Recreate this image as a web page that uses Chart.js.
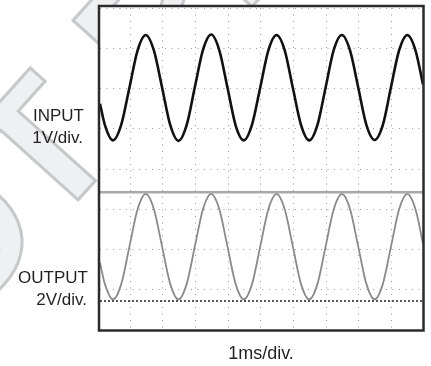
<!DOCTYPE html>
<html lang="en">
<head>
  <meta charset="UTF-8" />
  <title>Input / Output scope capture</title>
  <style>
    body {
      margin: 0;
      background: #fff;
    }
    #scope {
      display: block;
    }
  </style>
</head>
<body>
  <canvas id="scope" width="431" height="366"></canvas>

  <script src="https://cdn.jsdelivr.net/npm/chart.js"></script>

  <script>
    // time axis in ms (1ms/div), values in screen divisions (center = 0)
    const timesMs = [0.08, 0.23, 0.48, 0.73, 0.98, 1.23, 1.48, 1.73, 1.98, 2.23,
      2.48, 2.73, 2.98, 3.23, 3.48, 3.73, 3.98, 4.23, 4.48, 4.73,
      4.98, 5.23, 5.48, 5.73, 5.98, 6.23, 6.48, 6.73, 6.98, 7.23,
      7.48, 7.73, 7.98, 8.23, 8.48, 8.73, 8.98, 9.23, 9.48, 9.73, 9.96];

    const inputDiv = [1.62, 1.09, 0.71, 1.10, 2.02, 2.95, 3.33, 2.94, 2.02, 1.09,
      0.70, 1.09, 2.03, 2.96, 3.34, 2.95, 2.02, 1.08, 0.71, 1.10,
      2.02, 2.95, 3.33, 2.95, 2.01, 1.09, 0.71, 1.09, 2.02, 2.96,
      3.33, 2.94, 2.02, 1.09, 0.72, 1.09, 2.03, 2.95, 3.33, 2.95, 2.10];

    const outputDiv = [-2.33, -2.86, -3.24, -2.86, -1.93, -1.00, -0.62, -1.00, -1.93, -2.86,
      -3.24, -2.86, -1.93, -1.00, -0.62, -1.00, -1.93, -2.86, -3.24, -2.86,
      -1.93, -1.00, -0.62, -1.00, -1.93, -2.86, -3.24, -2.86, -1.93, -1.00,
      -0.62, -1.00, -1.93, -2.86, -3.24, -2.86, -1.93, -1.00, -0.62, -1.00, -1.85];

    // marker levels on the output channel
    const topLevel = -0.58;
    const bottomLevel = -3.28;

    const xRange = [0.08, 9.96];
    const xTicks = [1, 2, 3, 4, 5, 6, 7, 8, 9];
    const yTicks = [-4, -3, -2, -1, 0, 1, 2, 3, 4];

    const pts = vals => timesMs.map((t, i) => ({ x: t, y: vals[i] }));
    const level = v => xRange.map(t => ({ x: t, y: v }));

    // background, watermark, and white screen area
    const screenBg = {
      id: 'screenBg',
      beforeDraw(chart) {
        const { ctx, chartArea: a } = chart;
        ctx.save();
        ctx.fillStyle = '#fff';
        ctx.fillRect(0, 0, chart.width, chart.height);

        ctx.translate(50, 231);
        ctx.rotate(-48 * Math.PI / 180);
        ctx.font = 'bold 180px "Liberation Sans", Arial, sans-serif';
        ctx.textBaseline = 'alphabetic';
        ctx.textAlign = 'right';
        ctx.fillStyle = '#eff0f2';
        ctx.strokeStyle = '#c6c8ca';
        ctx.lineWidth = 3;
        ctx.fillText('NO', 0, 0);
        ctx.strokeText('NO', 0, 0);
        ctx.textAlign = 'left';
        ctx.fillText('T RECOMMENDED', 0, 0);
        ctx.strokeText('T RECOMMENDED', 0, 0);
        ctx.restore();

        ctx.save();
        ctx.fillStyle = '#fff';
        ctx.fillRect(a.left - 2, a.top - 3, a.right - a.left + 4, a.bottom - a.top + 5);
        ctx.restore();
      }
    };

    // frame + channel labels
    const scopeText = {
      id: 'scopeText',
      afterDraw(chart) {
        const { ctx, chartArea: a } = chart;
        ctx.save();
        ctx.strokeStyle = '#2b2b2b';
        ctx.lineWidth = 2.5;
        ctx.strokeRect(a.left - 1, a.top - 2, a.right - a.left + 1.5, a.bottom - a.top + 2.5);

        ctx.fillStyle = '#231f20';
        ctx.font = '17px "Liberation Sans", Arial, sans-serif';
        ctx.textAlign = 'right';
        ctx.textBaseline = 'alphabetic';
        ctx.fillText('INPUT', 84, 121);
        ctx.fillText('1V/div.', 83, 143);
        ctx.fillText('OUTPUT', 88, 283);
        ctx.fillText('2V/div.', 87, 305);
        ctx.font = '18px "Liberation Sans", Arial, sans-serif';
        ctx.textAlign = 'center';
        ctx.fillText('1ms/div.', 261, 359);
        ctx.restore();
      }
    };

    const ctx = document.getElementById('scope').getContext('2d');
    new Chart(ctx, {
      type: 'line',
      data: {
        datasets: [{
          label: 'Output top level',
          data: level(topLevel),
          borderColor: '#a9a9a9',
          borderWidth: 2.5,
          pointRadius: 0
        }, {
          label: 'Output bottom level',
          data: level(bottomLevel),
          borderColor: '#555',
          borderWidth: 2,
          borderDash: [2, 2],
          pointRadius: 0
        }, {
          label: 'Output',
          data: pts(outputDiv),
          borderColor: '#8a8a8a',
          borderWidth: 1.8,
          pointRadius: 0,
          cubicInterpolationMode: 'monotone'
        }, {
          label: 'Input',
          data: pts(inputDiv),
          borderColor: '#111',
          borderWidth: 2.6,
          pointRadius: 0,
          cubicInterpolationMode: 'monotone'
        }]
      },
      options: {
        responsive: false,
        animation: false,
        devicePixelRatio: 1,
        layout: {
          padding: { left: 100, top: 8, right: 8, bottom: 36 }
        },
        scales: {
          x: {
            type: 'linear',
            min: xRange[0],
            max: xRange[1],
            afterBuildTicks: s => { s.ticks = xTicks.map(v => ({ value: v })); },
            ticks: { display: false },
            grid: { color: '#9a9a9a', lineWidth: 1, drawTicks: false, tickLength: 0 },
            border: { display: false, dash: [1, 5.5] }
          },
          y: {
            type: 'linear',
            min: -4,
            max: 4,
            afterBuildTicks: s => { s.ticks = yTicks.map(v => ({ value: v })); },
            ticks: { display: false },
            grid: { color: '#9a9a9a', lineWidth: 1, drawTicks: false, tickLength: 0 },
            border: { display: false, dash: [1, 5.5] }
          }
        },
        plugins: {
          legend: { display: false },
          tooltip: { enabled: false }
        }
      },
      plugins: [screenBg, scopeText]
    });
  </script>
</body>
</html>
